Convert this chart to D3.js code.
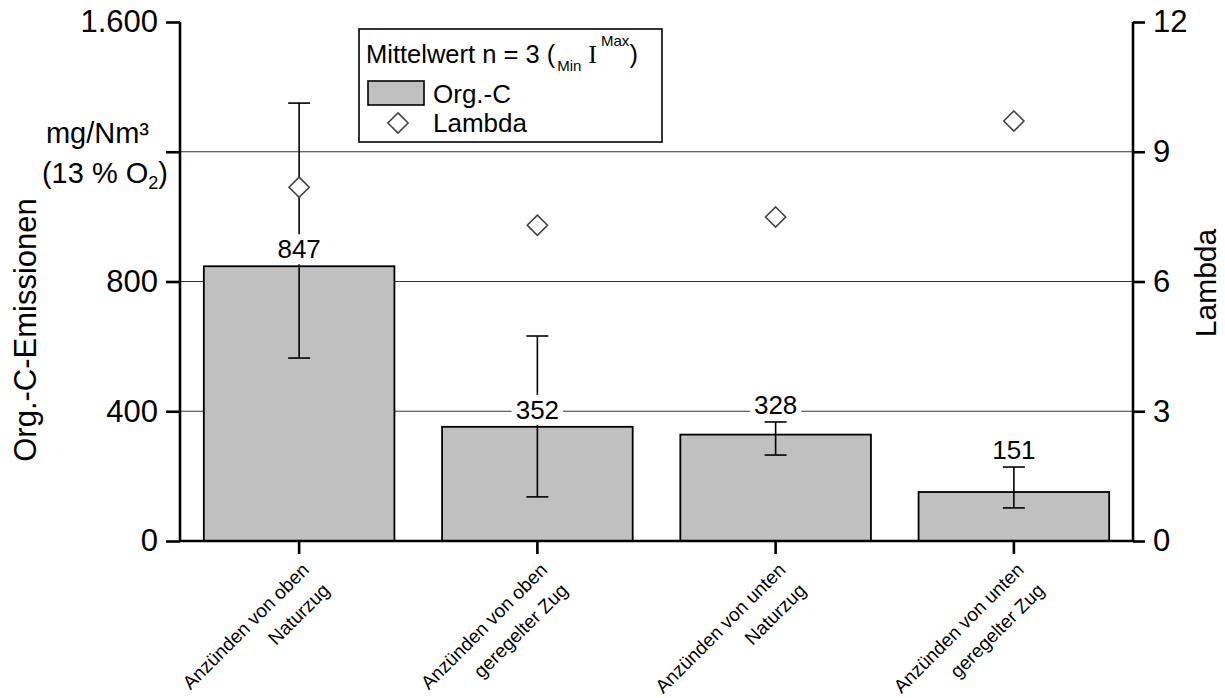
<!DOCTYPE html>
<html>
<head>
<meta charset="utf-8">
<script src="https://cdn.jsdelivr.net/npm/d3@7"></script>
<style>
  html, body { margin: 0; padding: 0; background: #fff; }
  svg { display: block; font-family: "Liberation Sans", Arial, sans-serif; }
</style>
</head>
<body>
<svg id="chart" width="1225" height="698"></svg>
<script>
// ---- data ----
const categories = ["oben-Naturzug", "oben-geregelt", "unten-Naturzug", "unten-geregelt"];
const categoryLines = [
  ["Anzünden von oben", "Naturzug"],
  ["Anzünden von oben", "geregelter Zug"],
  ["Anzünden von unten", "Naturzug"],
  ["Anzünden von unten", "geregelter Zug"]
];
const orgC    = [847, 352, 328, 151];
const orgCMin = [564, 136, 265, 102];
const orgCMax = [1350, 632, 367, 228];
const lambda  = [8.18, 7.3, 7.49, 9.71];
const leftTicks = [0, 400, 800, 1200, 1600];
const leftTickLabels = ["0", "400", "800", "", "1.600"];
const rightTicks = [0, 3, 6, 9, 12];
const gridValues = [400, 800, 1200];

// ---- layout ----
const svg = d3.select("#chart");
const L = 180, R = 1133, T = 22, B = 541;
const FONT = "'Liberation Sans', Arial, sans-serif";

const x = d3.scaleBand().domain(categories).range([L, R]).paddingInner(0.2).paddingOuter(0.1);
const y = d3.scaleLinear().domain([0, 1600]).range([B, T]);
const yR = d3.scaleLinear().domain([0, 12]).range([B, T]);

const data = categories.map((c, i) => ({
  cat: c, lines: categoryLines[i], v: orgC[i], lo: orgCMin[i], hi: orgCMax[i], lam: lambda[i]
}));

// gridlines
svg.append("g").selectAll("line").data(gridValues).join("line")
  .attr("x1", L).attr("x2", R)
  .attr("y1", d => y(d)).attr("y2", d => y(d))
  .attr("stroke", "#333").attr("stroke-width", 1.2);

// bars
svg.append("g").selectAll("rect").data(data).join("rect")
  .attr("x", d => x(d.cat)).attr("width", x.bandwidth())
  .attr("y", d => y(d.v)).attr("height", d => y(0) - y(d.v))
  .attr("fill", "#c0c0c0").attr("stroke", "#000").attr("stroke-width", 1.8);

// error bars
const eb = svg.append("g").attr("stroke", "#000").attr("stroke-width", 1.6);
data.forEach(d => {
  const cx = x(d.cat) + x.bandwidth() / 2;
  eb.append("line").attr("x1", cx).attr("x2", cx).attr("y1", y(d.lo)).attr("y2", y(d.hi));
  eb.append("line").attr("x1", cx - 11).attr("x2", cx + 11).attr("y1", y(d.lo)).attr("y2", y(d.lo));
  eb.append("line").attr("x1", cx - 11).attr("x2", cx + 11).attr("y1", y(d.hi)).attr("y2", y(d.hi));
});

// value labels with white background
const lab = svg.append("g");
data.forEach(d => {
  const cx = x(d.cat) + x.bandwidth() / 2;
  let top = y(d.v);
  if (top - y(d.hi) < 50) top = y(d.hi);
  const cy = top - 17;
  const txt = String(d.v);
  const w = txt.length * 14.5 + 8;
  lab.append("rect").attr("x", cx - w / 2).attr("y", cy - 15).attr("width", w).attr("height", 30)
    .attr("fill", "#fff");
  lab.append("text").attr("x", cx).attr("y", cy + 9).attr("text-anchor", "middle")
    .attr("font-size", 26).attr("fill", "#000").text(txt);
});

// lambda diamonds
const diamond = d3.symbol().type(d3.symbolDiamond2).size(260);
svg.append("g").selectAll("path").data(data).join("path")
  .attr("d", diamond)
  .attr("transform", d => `translate(${x(d.cat) + x.bandwidth() / 2},${yR(d.lam)})`)
  .attr("fill", "#fff").attr("stroke", "#444").attr("stroke-width", 1.6);

// axes
const axL = svg.append("g").attr("transform", `translate(${L},0)`)
  .call(d3.axisLeft(y).tickValues(leftTicks).tickSize(14).tickPadding(8)
    .tickFormat((d, i) => leftTickLabels[i]));
const axR = svg.append("g").attr("transform", `translate(${R},0)`)
  .call(d3.axisRight(yR).tickValues(rightTicks).tickSize(12).tickPadding(8).tickFormat(d3.format("d")));
const axB = svg.append("g").attr("transform", `translate(0,${B})`)
  .call(d3.axisBottom(x).tickSize(13).tickFormat(""));
[axL, axR, axB].forEach(a => {
  a.attr("font-family", FONT);
  a.select(".domain").attr("stroke", "#000").attr("stroke-width", 2.6);
  a.selectAll(".tick line").attr("stroke", "#000").attr("stroke-width", 2.6);
  a.selectAll(".tick text").attr("font-size", 31).attr("fill", "#000");
});
axL.select(".domain").attr("d", `M0,${B}V${T}`);
axR.select(".domain").attr("d", `M0,${B}V${T}`);
axB.select(".domain").attr("d", `M${L},0H${R}`);

// x category labels (rotated, two lines)
data.forEach(d => {
  const cx = x(d.cat) + x.bandwidth() / 2;
  const g = svg.append("g").attr("transform", `translate(${cx + 11},${B + 30}) rotate(-45)`);
  g.append("text").attr("text-anchor", "end").attr("font-size", 19).attr("y", 0).text(d.lines[0]);
  g.append("text").attr("text-anchor", "end").attr("font-size", 19).attr("y", 29).text(d.lines[1]);
});

// axis titles
svg.append("text").attr("transform", "translate(36,330) rotate(-90)")
  .attr("text-anchor", "middle").attr("font-size", 31).text("Org.-C-Emissionen");
svg.append("text").attr("x", 149).attr("y", 143).attr("text-anchor", "end")
  .attr("font-size", 29).text("mg/Nm³");
const unit2 = svg.append("text").attr("x", 168).attr("y", 183).attr("text-anchor", "end").attr("font-size", 29);
unit2.append("tspan").text("(13 % O");
unit2.append("tspan").attr("font-size", 18).attr("dy", 6).text("2");
unit2.append("tspan").attr("dy", -6).text(")");
svg.append("text").attr("transform", "translate(1216,283) rotate(-90)")
  .attr("text-anchor", "middle").attr("font-size", 30).text("Lambda");

// legend
const lg = svg.append("g");
lg.append("rect").attr("x", 359).attr("y", 29).attr("width", 303).attr("height", 113)
  .attr("fill", "#fff").attr("stroke", "#000").attr("stroke-width", 1.6);
const t1 = lg.append("text").attr("x", 366).attr("y", 63).attr("font-size", 25.5);
t1.append("tspan").text("Mittelwert n = 3 (");
t1.append("tspan").attr("font-size", 15).attr("dy", 8).attr("dx", 2).text("Min");
t1.append("tspan").attr("font-size", 26).attr("dy", -8).attr("dx", 7)
  .attr("font-family", "'Liberation Serif', serif").text("I");
t1.append("tspan").attr("font-size", 15).attr("dy", -17).attr("dx", 4).text("Max");
t1.append("tspan").attr("dy", 17).text(")");
lg.append("rect").attr("x", 368).attr("y", 81).attr("width", 56).attr("height", 24)
  .attr("fill", "#c0c0c0").attr("stroke", "#000").attr("stroke-width", 1.6);
lg.append("text").attr("x", 433).attr("y", 103).attr("font-size", 26).text("Org.-C");
lg.append("path").attr("d", diamond).attr("transform", "translate(398,123)")
  .attr("fill", "#fff").attr("stroke", "#444").attr("stroke-width", 1.6);
lg.append("text").attr("x", 433).attr("y", 132).attr("font-size", 26).text("Lambda");
</script>
</body>
</html>
